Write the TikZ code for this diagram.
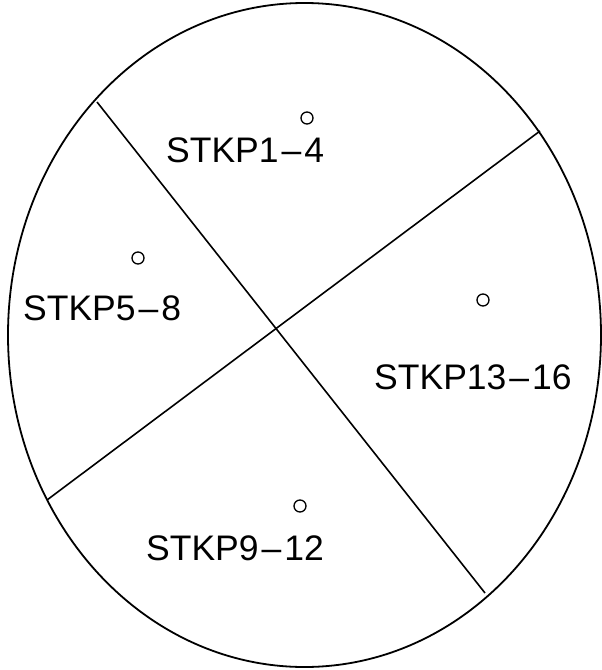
\documentclass[tikz,border=0pt]{standalone}
\usepackage{fontspec}
\setmainfont{Liberation Sans}
\usetikzlibrary{shapes.geometric}
\newcommand\lbldash{\kern3pt–\kern3pt}
\begin{document}
\begin{tikzpicture}[x=1pt,y=-1pt,
  outline/.style={draw=black,line width=1.8pt},
  divider/.style={draw=black,line width=1.6pt},
  hole/.style={circle,draw=black,line width=1.3pt,minimum size=12pt,inner sep=0pt},
  lbl/.style={font=\fontsize{35.5}{36}\selectfont,inner sep=0pt,anchor=base west}]
\useasboundingbox (0,0) rectangle (602,670);
\node[ellipse,outline,minimum width=593pt,minimum height=664pt,inner sep=0pt] (E) at (304.5,335) {};
\coordinate (a1) at (97,102);
\coordinate (a2) at (485,593);
\coordinate (b1) at (47,500);
\coordinate (b2) at (540,131);
\draw[divider] (a1) -- (a2);
\draw[divider] (b1) -- (b2);
\node[hole] (h1) at (307,118) {};
\node[hole] (h2) at (138,258) {};
\node[hole] (h3) at (483,300) {};
\node[hole] (h4) at (300,506) {};
\node[lbl] (t1) at (166,162) {STKP1\lbldash 4};
\node[lbl] (t2) at (23,320) {STKP5\lbldash 8};
\node[lbl] (t3) at (374,389) {STKP13\lbldash 16};
\node[lbl] (t4) at (146,560) {STKP9\lbldash 12};
\end{tikzpicture}
\end{document}
